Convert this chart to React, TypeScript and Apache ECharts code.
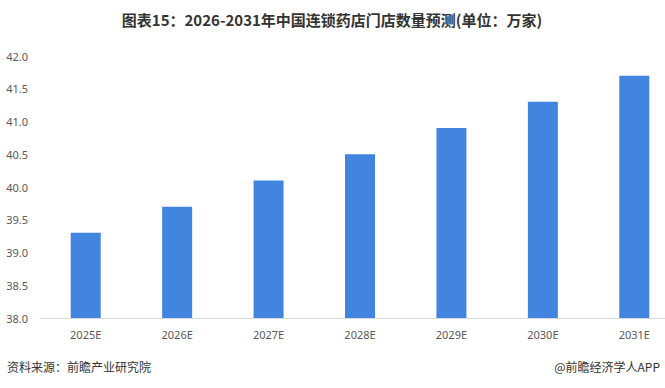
import React, { useEffect, useRef } from "react";
import * as echarts from "echarts";

const categories = ["2025E", "2026E", "2027E", "2028E", "2029E", "2030E", "2031E"];
const values = [39.3, 39.7, 40.1, 40.5, 40.9, 41.3, 41.7];
const titleText = "图表15：2026-2031年中国连锁药店门店数量预测(单位：万家)";
const sourceText = "资料来源：前瞻产业研究院";
const brandText = "@前瞻经济学人APP";

export default function App() {
  const ref = useRef<HTMLDivElement>(null);
  useEffect(() => {
    if (!ref.current) return;
    const chart = echarts.init(ref.current, null, { renderer: "svg" });
    chart.setOption({
      animation: false,
      backgroundColor: "#ffffff",
      graphic: [
        {
          type: "text",
          x: 332,
          y: 12,
          style: {
            text: titleText,
            fontSize: 15,
            fontWeight: "bold",
            fill: "#333333",
            fontFamily: "Noto Sans CJK SC",
            textAlign: "center",
          },
        },
        {
          type: "text",
          x: 7,
          y: 360,
          style: { text: sourceText, fontSize: 12, fill: "#333333", fontFamily: "Noto Sans CJK SC" },
        },
        {
          type: "text",
          x: 660,
          y: 360,
          style: {
            text: brandText,
            fontSize: 12,
            fill: "#333333",
            fontFamily: "Noto Sans CJK SC",
            textAlign: "right",
          },
        },
      ],
      grid: { left: 40, top: 56, width: 640, height: 262, containLabel: false },
      xAxis: {
        type: "category",
        data: categories,
        axisLine: { lineStyle: { color: "#d9d9d9", width: 1 } },
        axisTick: { show: false },
        axisLabel: { color: "#595959", fontSize: 11, margin: 11, fontFamily: "Noto Sans" },
      },
      yAxis: {
        type: "value",
        min: 38,
        max: 42,
        interval: 0.5,
        axisLine: { show: false },
        axisTick: { show: false },
        splitLine: { show: false },
        axisLabel: {
          color: "#595959",
          fontSize: 11,
          margin: 12,
          fontFamily: "Noto Sans",
          formatter: (v: number) => v.toFixed(1),
        },
      },
      series: [
        {
          type: "bar",
          data: values,
          barWidth: 30,
          itemStyle: { color: "#4285e1" },
        },
      ],
    });
    return () => chart.dispose();
  }, []);
  return (
    <div style={{ position: "absolute", left: 0, top: 0, width: 665, height: 388, overflow: "hidden" }}>
      <div ref={ref} style={{ width: 684, height: 388 }} />
    </div>
  );
}
